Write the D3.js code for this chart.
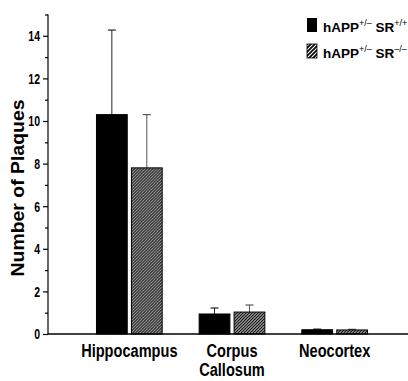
<!DOCTYPE html>
<html lang="en">
<head>
  <meta charset="UTF-8">
  <title>Number of Plaques</title>
  <script src="https://d3js.org/d3.v7.min.js"></script>
  <style>
    body { margin: 0; background: #fff; }
    text { font-family: "Liberation Sans", Arial, sans-serif; fill: #000; }
  </style>
</head>
<body>
  <div id="chart"></div>

  <script>
    // Data
    const categories = ["Hippocampus", "Corpus Callosum", "Neocortex"];
    const seriesKeys = ["wt", "ko"];
    const wtMeans = [10.3, 0.94, 0.2];
    const wtErrors = [3.97, 0.28, 0.03];
    const koMeans = [7.8, 1.03, 0.19];
    const koErrors = [2.5, 0.33, 0.03];
    const majorTicks = [0, 2, 4, 6, 8, 10, 12, 14];
    const minorTicks = [1, 3, 5, 7, 9, 11, 13, 15];

    const W = 408, H = 381;
    const axisX = 48, baseY = 334;

    // the original uses a condensed face, so squeeze the text horizontally
    function squeeze(sel, k) {
      sel.each(function() {
        const w = this.getComputedTextLength();
        d3.select(this).attr("textLength", w * k).attr("lengthAdjust", "spacingAndGlyphs");
      });
    }

    const svg = d3.select("#chart")
      .append("svg")
      .attr("width", W)
      .attr("height", H);

    const defs = svg.append("defs");
    // dense hatch for bars
    defs.append("pattern")
      .attr("id", "hatch")
      .attr("patternUnits", "userSpaceOnUse")
      .attr("width", 3).attr("height", 3)
      .call(p => {
        p.append("rect").attr("width", 3).attr("height", 3).attr("fill", "#fff");
        p.append("path")
          .attr("d", "M-1,1 L1,-1 M0,3 L3,0 M2,4 L4,2")
          .attr("stroke", "#000").attr("stroke-width", 1.3);
      });
    // coarser hatch for legend swatch
    defs.append("pattern")
      .attr("id", "hatchLegend")
      .attr("patternUnits", "userSpaceOnUse")
      .attr("width", 4).attr("height", 4)
      .call(p => {
        p.append("rect").attr("width", 4).attr("height", 4).attr("fill", "#fff");
        p.append("path")
          .attr("d", "M-1,1 L1,-1 M0,4 L4,0 M3,5 L5,3")
          .attr("stroke", "#000").attr("stroke-width", 1.7);
      });

    const y = d3.scaleLinear()
      .domain([0, 15])
      .range([baseY, baseY - 15 * 21.3]);

    const x0 = d3.scaleBand()
      .domain(categories)
      .range([78, 386])
      .paddingInner(0.36)
      .paddingOuter(0.18);

    const x1 = d3.scaleBand()
      .domain(seriesKeys)
      .range([0, x0.bandwidth()])
      .paddingInner(0.12);

    const rows = categories.map((c, i) => ({
      cat: c,
      vals: [
        { key: "wt", value: wtMeans[i], err: wtErrors[i] },
        { key: "ko", value: koMeans[i], err: koErrors[i] }
      ]
    }));

    const fill = { wt: "#000", ko: "url(#hatch)" };
    const errColor = { wt: "#222", ko: "#555" };

    const groups = svg.selectAll(".grp")
      .data(rows)
      .enter().append("g")
      .attr("class", "grp")
      .attr("transform", d => "translate(" + x0(d.cat) + ",0)");

    // error bars (upper only)
    groups.selectAll(".err")
      .data(d => d.vals)
      .enter().append("g")
      .attr("class", "err")
      .each(function(d) {
        const cx = x1(d.key) + x1.bandwidth() / 2;
        const g = d3.select(this);
        g.append("line")
          .attr("x1", cx).attr("x2", cx)
          .attr("y1", y(d.value)).attr("y2", y(d.value + d.err))
          .attr("stroke", errColor[d.key]).attr("stroke-width", 1);
        g.append("line")
          .attr("x1", cx - 4).attr("x2", cx + 4)
          .attr("y1", y(d.value + d.err)).attr("y2", y(d.value + d.err))
          .attr("stroke", errColor[d.key]).attr("stroke-width", 1.2);
      });

    groups.selectAll("rect")
      .data(d => d.vals)
      .enter().append("rect")
      .attr("x", d => x1(d.key))
      .attr("y", d => y(d.value))
      .attr("width", x1.bandwidth())
      .attr("height", d => baseY - y(d.value))
      .attr("fill", d => fill[d.key])
      .attr("stroke", "#000")
      .attr("stroke-width", 1);

    // y axis
    const yAxis = svg.append("g")
      .attr("transform", "translate(" + axisX + ",0)")
      .call(d3.axisLeft(y).tickValues(majorTicks).tickSize(5).tickPadding(3).tickFormat(d3.format("d")));
    yAxis.select(".domain").remove();
    yAxis.selectAll("line").attr("stroke-width", 1.2);
    yAxis.selectAll("text")
      .style("font-size", "15px")
      .style("font-family", "'Liberation Sans', Arial, sans-serif")
      .style("font-weight", "bold")
      .call(squeeze, 0.7);

    svg.append("g")
      .attr("transform", "translate(" + axisX + ",0)")
      .call(d3.axisLeft(y).tickValues(minorTicks).tickSize(3).tickFormat(""))
      .call(g => g.select(".domain").remove())
      .selectAll("line").attr("stroke-width", 1.2);

    svg.append("line")
      .attr("x1", axisX).attr("x2", axisX)
      .attr("y1", y(0)).attr("y2", y(15))
      .attr("stroke", "#000").attr("stroke-width", 1.2);

    // x baseline
    svg.append("line")
      .attr("x1", axisX).attr("x2", W)
      .attr("y1", baseY).attr("y2", baseY)
      .attr("stroke", "#000").attr("stroke-width", 1.5);

    // category labels
    svg.selectAll(".cat")
      .data(categories)
      .enter().append("g")
      .attr("class", "cat")
      .each(function(d) {
        const g = d3.select(this);
        const cx = x0(d) + x0.bandwidth() / 2;
        d.split(" ").forEach((w, i) => {
          g.append("text")
            .attr("x", cx)
            .attr("y", 357 + i * 19)
            .attr("text-anchor", "middle")
            .style("font-size", "18px")
            .style("font-weight", "bold")
            .text(w)
            .call(squeeze, 0.81);
        });
      });

    // y axis title
    svg.append("text")
      .attr("transform", "translate(24,188) rotate(-90)")
      .attr("text-anchor", "middle")
      .style("font-size", "18px")
      .style("font-weight", "bold")
      .attr("textLength", 177)
      .attr("lengthAdjust", "spacingAndGlyphs")
      .text("Number of Plaques");

    // legend
    const legendRows = [
      { key: "wt", sup2: "+/+", fill: "#000" },
      { key: "ko", sup2: "\u2013/\u2013", fill: "url(#hatchLegend)" }
    ];
    const lg = svg.selectAll(".lg")
      .data(legendRows)
      .enter().append("g")
      .attr("class", "lg")
      .attr("transform", (d, i) => "translate(307," + (18 + i * 26) + ")");
    lg.append("rect")
      .attr("width", 10).attr("height", 14)
      .attr("fill", d => d.fill)
      .attr("stroke", d => d.key === "ko" ? "#000" : "none")
      .attr("stroke-width", 0.8);
    const lt = lg.append("text")
      .attr("x", 16).attr("y", 14)
      .style("font-size", "13.5px")
      .style("font-weight", "bold");
    lt.append("tspan").text("hAPP");
    lt.append("tspan").attr("dy", -6).style("font-size", "9px").style("font-weight", "normal").text("+/\u2013");
    lt.append("tspan").attr("dy", 6).text(" SR");
    lt.append("tspan").attr("dy", -6).style("font-size", "9px").style("font-weight", "normal").text(d => d.sup2);
  </script>
</body>
</html>
